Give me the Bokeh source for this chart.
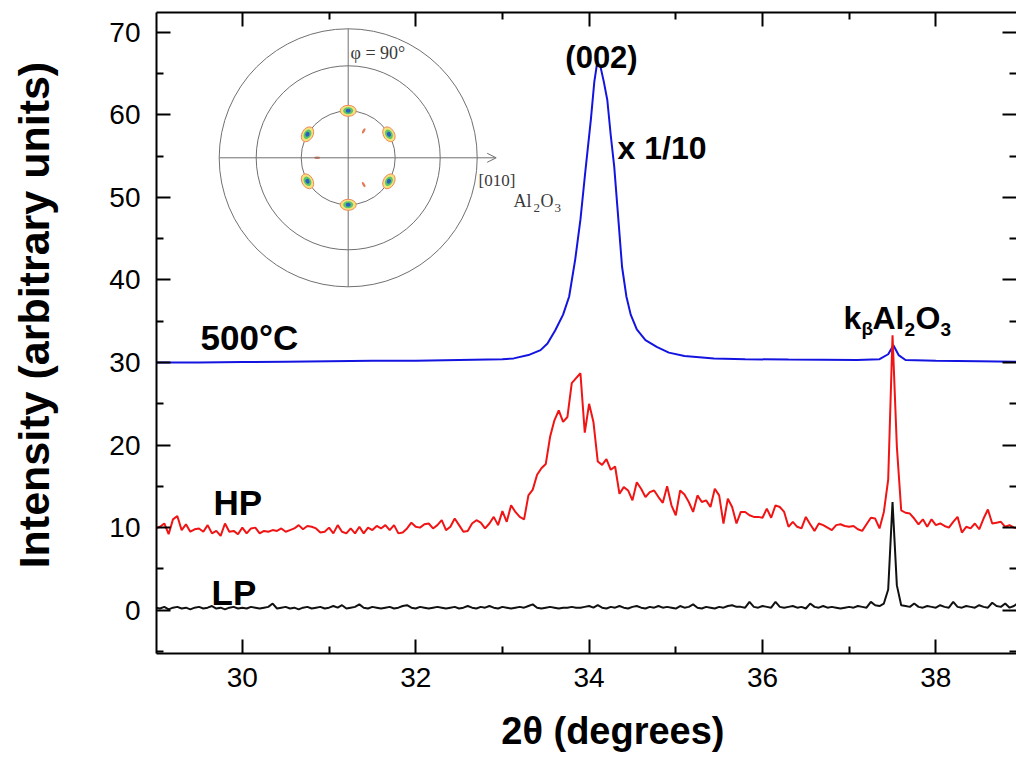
import math
from bokeh.plotting import figure
from bokeh.models import Range1d, LinearAxis, Label, Arrow, OpenHead, FixedTicker, CustomJSTickFormatter
from bokeh.embed import file_html
from bokeh.resources import INLINE

# ---------------- data ----------------
two_theta = [
    29.0, 29.05, 29.1, 29.15, 29.2, 29.25, 29.3, 29.35, 29.4, 29.45, 29.5, 29.55, 29.6, 29.65, 29.7, 29.75, 29.8, 29.85, 29.9, 29.95,
    30.0, 30.05, 30.1, 30.15, 30.2, 30.25, 30.3, 30.35, 30.4, 30.45, 30.5, 30.55, 30.6, 30.65, 30.7, 30.75, 30.8, 30.85, 30.9, 30.95,
    31.0, 31.05, 31.1, 31.15, 31.2, 31.25, 31.3, 31.35, 31.4, 31.45, 31.5, 31.55, 31.6, 31.65, 31.7, 31.75, 31.8, 31.85, 31.9, 31.95,
    32.0, 32.05, 32.1, 32.15, 32.2, 32.25, 32.3, 32.35, 32.4, 32.45, 32.5, 32.55, 32.6, 32.65, 32.7, 32.75, 32.8, 32.85, 32.9, 32.95,
    33.0, 33.05, 33.1, 33.15, 33.2, 33.25, 33.3, 33.35, 33.4, 33.45, 33.5, 33.55, 33.6, 33.65, 33.7, 33.75, 33.8, 33.85, 33.9, 33.95,
    34.0, 34.05, 34.1, 34.15, 34.2, 34.25, 34.3, 34.35, 34.4, 34.45, 34.5, 34.55, 34.6, 34.65, 34.7, 34.75, 34.8, 34.85, 34.9, 34.95,
    35.0, 35.05, 35.1, 35.15, 35.2, 35.25, 35.3, 35.35, 35.4, 35.45, 35.5, 35.55, 35.6, 35.65, 35.7, 35.75, 35.8, 35.85, 35.9, 35.95,
    36.0, 36.05, 36.1, 36.15, 36.2, 36.25, 36.3, 36.35, 36.4, 36.45, 36.5, 36.55, 36.6, 36.65, 36.7, 36.75, 36.8, 36.85, 36.9, 36.95,
    37.0, 37.05, 37.1, 37.15, 37.2, 37.25, 37.3, 37.35, 37.4, 37.45, 37.5, 37.55, 37.6, 37.65, 37.7, 37.75, 37.8, 37.85, 37.9, 37.95,
    38.0, 38.05, 38.1, 38.15, 38.2, 38.25, 38.3, 38.35, 38.4, 38.45, 38.5, 38.55, 38.6, 38.65, 38.7, 38.75, 38.8, 38.85, 38.9, 38.95,
]

hp_intensity = [
    9.9, 10.1, 10.5, 9.2, 11.0, 11.4, 9.7, 10.4, 9.5, 9.8, 9.9, 9.5, 10.3, 9.3, 9.6, 9.0, 10.5, 9.5, 9.6, 9.2,
    10.0, 9.3, 9.9, 10.0, 9.3, 9.6, 9.5, 9.7, 9.6, 9.9, 9.5, 9.7, 9.9, 10.3, 9.8, 10.2, 10.1, 9.9, 9.4, 9.5,
    10.0, 9.3, 10.3, 9.5, 9.3, 9.9, 9.3, 10.1, 9.3, 10.0, 9.7, 10.2, 9.9, 10.3, 9.7, 10.3, 9.3, 9.4, 9.9, 10.6,
    10.1, 10.0, 10.4, 10.5, 9.9, 10.3, 10.9, 9.7, 10.1, 11.1, 10.3, 9.5, 9.6, 10.5, 10.9, 10.6, 9.9, 10.5, 11.3, 10.3,
    12.0, 10.7, 12.7, 11.9, 11.3, 11.0, 13.9, 14.6, 16.4, 17.2, 17.7, 21.0, 23.0, 24.2, 22.8, 23.4, 27.5, 28.1, 28.7, 21.5,
    25.0, 22.8, 18.0, 17.6, 18.3, 17.0, 17.4, 14.1, 14.9, 14.5, 13.3, 15.5, 14.7, 13.7, 14.3, 14.5, 13.7, 13.0, 15.0, 12.7,
    11.5, 14.5, 14.0, 13.1, 11.9, 13.9, 13.1, 13.3, 12.5, 14.7, 13.9, 10.5, 13.5, 12.5, 10.5, 11.9, 11.9, 11.5, 11.3, 11.3,
    11.2, 12.3, 11.2, 12.7, 12.5, 11.9, 10.1, 10.7, 10.1, 9.9, 11.3, 10.4, 9.6, 10.5, 10.3, 10.0, 9.7, 10.3, 10.4, 10.2,
    10.1, 10.2, 9.8, 9.6, 10.4, 11.2, 11.1, 9.9, 11.9, 15.8, 33.3, 19.8, 12.1, 11.8, 11.7, 11.1, 10.4, 11.0, 10.1, 11.0,
    10.3, 10.5, 10.2, 10.0, 10.7, 11.3, 9.4, 10.1, 9.9, 10.5, 9.8, 11.1, 12.2, 10.5, 10.6, 10.7, 10.1, 10.3, 10.0, 9.9,
]

lp_intensity = [
    0.3, 0.2, 0.4, 0.1, 0.3, 0.4, 0.2, 0.3, 0.1, 0.3, 0.4, 0.2, 0.3, 0.5, 0.2, 0.3, 0.1, 0.3, 0.4, 0.2,
    0.3, 0.2, 0.4, 0.3, 0.2, 0.3, 0.4, 0.8, 0.2, 0.3, 0.4, 0.2, 0.3, 0.1, 0.3, 0.4, 0.2, 0.3, 0.4, 0.2,
    0.3, 0.5, 0.3, 0.6, 0.2, 0.3, 0.4, 0.7, 0.3, 0.2, 0.4, 0.3, 0.2, 0.3, 0.4, 0.2, 0.3, 0.5, 0.6, 0.3,
    0.2, 0.4, 0.3, 0.2, 0.3, 0.4, 0.3, 0.2, 0.3, 0.4, 0.2, 0.3, 0.5, 0.3, 0.2, 0.4, 0.3, 0.5, 0.3, 0.2,
    0.4, 0.3, 0.2, 0.3, 0.4, 0.3, 0.5, 0.7, 0.3, 0.2, 0.3, 0.4, 0.3, 0.2, 0.3, 0.3, 0.4, 0.3, 0.3, 0.4,
    0.5, 0.3, 0.6, 0.3, 0.2, 0.4, 0.3, 0.5, 0.3, 0.2, 0.4, 0.5, 0.3, 0.2, 0.4, 0.3, 0.5, 0.3, 0.4, 0.3,
    0.2, 0.5, 0.3, 0.4, 0.7, 0.3, 0.2, 0.4, 0.3, 0.2, 0.4, 0.3, 0.5, 0.6, 0.4, 0.4, 0.3, 1.0, 0.4, 0.3,
    0.5, 0.4, 0.3, 1.0, 0.4, 0.3, 0.4, 0.5, 0.3, 0.4, 0.2, 0.8, 0.4, 0.3, 0.5, 0.3, 0.4, 0.3, 0.2, 0.3,
    0.4, 0.3, 0.5, 0.4, 0.3, 1.0, 0.6, 0.5, 0.8, 2.5, 13.1, 3.0, 0.6, 0.5, 0.4, 0.8, 0.4, 0.3, 0.5, 0.4,
    0.3, 0.6, 0.4, 0.3, 1.0, 0.4, 0.3, 0.5, 0.4, 0.3, 0.6, 0.4, 0.3, 0.9, 0.5, 0.4, 0.8, 0.3, 0.5, 0.9,
]

t500_two_theta = [29.0, 29.5, 30.0, 30.5, 31.0, 31.5, 32.0, 32.5, 33.0, 33.13, 33.3, 33.44, 33.52, 33.61,
                  33.7, 33.77, 33.84, 33.9, 33.96, 34.02, 34.06, 34.09, 34.13, 34.17, 34.21, 34.25, 34.29,
                  34.34, 34.38, 34.43, 34.48, 34.55, 34.65, 34.78, 34.92, 35.1, 35.44, 35.8, 36.3, 37.09,
                  37.35, 37.45, 37.51, 37.57, 37.65, 38.0, 38.5, 38.95]
t500_intensity = [30.0, 30.0, 30.05, 30.1, 30.15, 30.2, 30.2, 30.3, 30.4, 30.5, 30.9, 31.5, 32.3, 33.9,
                  35.8, 38.0, 42.5, 47.3, 53.5, 59.4, 64.0, 66.1, 65.9, 64.0, 61.8, 57.5, 53.7,
                  47.0, 41.6, 38.0, 35.8, 34.0, 32.7, 31.9, 31.2, 30.8, 30.5, 30.4, 30.35, 30.3,
                  30.4, 31.0, 32.1, 30.9, 30.3, 30.2, 30.15, 30.1]

x_major_ticks = [30, 32, 34, 36, 38]
x_minor_ticks = [29, 31, 33, 35, 37, 39]
y_major_ticks = [0, 10, 20, 30, 40, 50, 60, 70]
y_minor_ticks = [-5, 5, 15, 25, 35, 45, 55, 65]

# pole figure inset (screen-pixel radii, angles in degrees)
pole_ring_radii = [47, 92, 129]
pole_spot_angles = [30, 90, 150, 210, 270, 330]
pole_spot_radius = 47
pole_weak_angles = [60, 180, 300]
pole_weak_radius = 31

# ---------------- layout ----------------
X0, X1 = 29.01, 38.93
Y0, Y1 = -5.25, 72.4
W, H = 1016, 762
BL, BT, BB, BR = 156, 12, 109, 0
FW, FH = W - BL - BR, H - BT - BB
XPX = FW / (X1 - X0)
YPX = FH / (Y1 - Y0)


def dx(px):
    return X0 + (px - BL) / XPX


def dy(py):
    return Y1 - (py - BT) / YPX


p = figure(width=W, height=H, x_range=Range1d(X0, X1), y_range=Range1d(Y0, Y1),
           output_backend="svg", toolbar_location=None,
           min_border_left=BL, min_border_top=BT, min_border_bottom=BB, min_border_right=BR,
           x_axis_location=None, y_axis_location=None)
p.grid.visible = False
p.outline_line_color = None
p.background_fill_color = "white"
p.border_fill_color = "white"

blank = CustomJSTickFormatter(code="return ''")


def style_axis(ax, show_line=True):
    ax.axis_line_width = 2
    ax.axis_line_color = "black" if show_line else None
    ax.major_tick_in = 14
    ax.major_tick_out = 0
    ax.minor_tick_in = 7
    ax.minor_tick_out = 0
    ax.major_tick_line_width = 2
    ax.minor_tick_line_width = 2
    ax.major_tick_line_color = "black"
    ax.minor_tick_line_color = "black"
    ax.major_label_text_font = "Liberation Sans"
    ax.major_label_text_font_size = "28px"
    ax.major_label_text_color = "black"
    ax.axis_label_text_font = "Liberation Sans"
    ax.axis_label_text_font_style = "bold"
    ax.axis_label_text_color = "black"


xt = FixedTicker(ticks=x_major_ticks, minor_ticks=x_minor_ticks)
yt = FixedTicker(ticks=y_major_ticks, minor_ticks=y_minor_ticks)

NB = "\u00a0"
bottom = LinearAxis(ticker=xt, axis_label=NB * 5 + "2\u03b8 (degrees)")
style_axis(bottom)
bottom.major_label_standoff = 14
bottom.axis_label_text_font_size = "38px"
bottom.axis_label_standoff = 20
p.add_layout(bottom, "below")

left = LinearAxis(ticker=yt, axis_label=NB * 3 + "Intensity (arbitrary units)")
style_axis(left)
left.major_label_standoff = 16
left.axis_label_text_font_size = "43px"
left.axis_label_standoff = 48
p.add_layout(left, "left")

top = LinearAxis(ticker=xt, formatter=blank)
style_axis(top)
top.major_label_standoff = 0
p.add_layout(top, "above")

right = LinearAxis(ticker=yt, formatter=blank)
style_axis(right, show_line=False)
right.major_label_standoff = 0
p.add_layout(right, "right")

# ---------------- curves ----------------
p.line(t500_two_theta, t500_intensity, line_color="#1414e0", line_width=2)
p.line(two_theta, hp_intensity, line_color="#f01414", line_width=2)
p.line(two_theta, lp_intensity, line_color="#111111", line_width=2)

# ---------------- inset pole figure ----------------
PCX, PCY = dx(347.7), dy(157.3)
GRAY = "#707070"
p.circle(x=[PCX] * len(pole_ring_radii), y=[PCY] * len(pole_ring_radii), radius=pole_ring_radii,
         radius_units="screen", fill_color=None, line_color=GRAY, line_width=1)
R_OUT = max(pole_ring_radii)
p.segment(x0=[PCX], y0=[PCY + R_OUT / YPX], x1=[PCX], y1=[PCY - R_OUT / YPX], line_color=GRAY, line_width=1)
p.add_layout(Arrow(end=OpenHead(size=9, line_color=GRAY, line_width=1),
                   x_start=PCX - R_OUT / XPX, y_start=PCY, x_end=PCX + 148 / XPX, y_end=PCY,
                   line_color=GRAY, line_width=1))

sx = [PCX + pole_spot_radius * math.cos(math.radians(a)) / XPX for a in pole_spot_angles]
sy = [PCY + pole_spot_radius * math.sin(math.radians(a)) / YPX for a in pole_spot_angles]
sang = [math.radians(a + 90) for a in pole_spot_angles]
p.ellipse(sx, sy, width=16, height=11, angle=sang, width_units="screen", height_units="screen",
          fill_color="#f2e27a", line_color="#ee8a5c", line_width=1)
p.ellipse(sx, sy, width=10, height=7, angle=sang, width_units="screen", height_units="screen",
          fill_color="#5cc46a", line_color=None)
p.ellipse(sx, sy, width=5, height=4, angle=sang, width_units="screen", height_units="screen",
          fill_color="#2a5fc0", line_color=None)
wx = [PCX + pole_weak_radius * math.cos(math.radians(a)) / XPX for a in pole_weak_angles]
wy = [PCY + pole_weak_radius * math.sin(math.radians(a)) / YPX for a in pole_weak_angles]
p.ellipse(wx, wy, width=6, height=2.5, angle=[math.radians(a) for a in pole_weak_angles],
          width_units="screen", height_units="screen", fill_color="#e2643c", line_color=None, fill_alpha=0.85)


def lab(text, px, py, size, bold=True, align="left", baseline="alphabetic",
        font="Liberation Sans", color="black", angle=0.0):
    p.add_layout(Label(x=dx(px), y=dy(py), text=text, text_font=font, text_font_size=f"{size}px",
                       text_font_style="bold" if bold else "normal", text_align=align,
                       text_baseline=baseline, text_color=color, angle=angle))


SERIF = "Liberation Serif"
TXT = "#3a3a3a"
lab("\u03c6 = 90\u00b0", 350, 52, 18, bold=False, font=SERIF, color=TXT)
lab("[010]", 478, 180, 17, bold=False, font=SERIF, color=TXT)
lab("Al", 513, 200, 18, bold=False, font=SERIF, color=TXT)
lab("2", 533, 207, 13, bold=False, font=SERIF, color=TXT)
lab("O", 540, 200, 18, bold=False, font=SERIF, color=TXT)
lab("3", 554, 207, 13, bold=False, font=SERIF, color=TXT)

# ---------------- annotations ----------------
lab("(002)", 601, 57, 31, align="center")
lab("x 1/10", 617, 147, 32)
lab("500\u00b0C", 200, 337, 35)
lab("HP", 213, 502, 35)
lab("LP", 211, 592, 35)
lab("k", 843, 317, 32)
lab("\u03b2", 861, 328, 19)
lab("Al", 872, 317, 32)
lab("2", 904, 329, 19)
lab("O", 915, 317, 32)
lab("3", 940, 329, 19)

open("out.html", "w").write(file_html(p, INLINE))
